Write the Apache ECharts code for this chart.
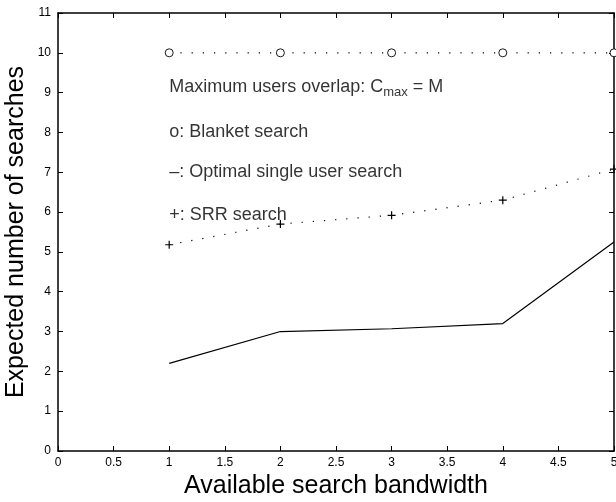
<!DOCTYPE html>
<html>
<head>
<meta charset="utf-8">
<script src="https://cdn.jsdelivr.net/npm/echarts@6/dist/echarts.min.js"></script>
<style>html,body{margin:0;padding:0;background:#fff}#c{width:616px;height:502px}</style>
</head>
<body>
<div id="c"></div>
<script>
const bandwidth = [1, 2, 3, 4, 5];
const blanket = [10, 10, 10, 10, 10];
const optimal = [2.2, 3.0, 3.07, 3.2, 5.25];
const srr = [5.18, 5.7, 5.92, 6.3, 7.08];
const annoX = [1, 1, 1, 1];
const annoY = [9.15, 8.0, 7.0, 5.92];
const annoText = ['{t|Maximum users overlap: C}{s|max}{t| = M}', '{t|o: Blanket search}', '{t|\u2013: Optimal single user search}', '{t|+: SRR search}'];
const xTitle = 'Available search bandwidth';
const yTitle = 'Expected number of searches';

const FONT = "'Liberation Sans', Arial, sans-serif";
const pairs = (xs, ys) => xs.map((x, i) => [x, ys[i]]);
const axisCommon = {
  axisLine: { show: true, onZero: false, lineStyle: { color: '#000', width: 1.5 } },
  axisTick: { show: true, inside: true, length: 5, lineStyle: { color: '#000', width: 1 } },
  splitLine: { show: false }
};
const chart = echarts.init(document.getElementById('c'), null, { renderer: 'canvas' });
chart.setOption({
  animation: false,
  backgroundColor: '#fff',
  grid: { left: 58, right: 2, top: 13, bottom: 51, containLabel: false, outerBoundsMode: 'none' },
  xAxis: [
    Object.assign({}, axisCommon, {
      type: 'value', min: 0, max: 5, interval: 0.5, position: 'bottom',
      name: xTitle, nameLocation: 'middle', nameGap: 22,
      nameTextStyle: { fontFamily: FONT, fontSize: 25, color: '#000' },
      axisLabel: { fontFamily: FONT, fontSize: 12, color: '#000', margin: 6 }
    }),
    Object.assign({}, axisCommon, {
      type: 'value', min: 0, max: 5, interval: 0.5, position: 'top',
      axisLabel: { show: false }
    })
  ],
  yAxis: [
    Object.assign({}, axisCommon, {
      type: 'value', min: 0, max: 11, interval: 1, position: 'left',
      name: yTitle, nameLocation: 'middle', nameGap: 29, nameMoveOverlap: false,
      nameTextStyle: { fontFamily: FONT, fontSize: 25, color: '#000' },
      axisLabel: { fontFamily: FONT, fontSize: 12, color: '#000', margin: 7 }
    }),
    Object.assign({}, axisCommon, {
      type: 'value', min: 0, max: 11, interval: 1, position: 'right',
      axisLabel: { show: false }
    })
  ],
  series: [
    {
      type: 'line', data: pairs(bandwidth, blanket),
      lineStyle: { color: '#000', width: 1.2, type: [1.2, 10] },
      symbol: 'circle', symbolSize: 8,
      itemStyle: { color: '#fff', borderColor: '#000', borderWidth: 0.9 }
    },
    {
      type: 'line', data: pairs(bandwidth, optimal),
      lineStyle: { color: '#000', width: 1.2 },
      showSymbol: false, symbol: 'none'
    },
    {
      type: 'line', data: pairs(bandwidth, srr),
      lineStyle: { color: '#000', width: 1.2, type: [1.2, 10] },
      symbol: 'path://M0,5L10,5M5,0L5,10', symbolSize: 8,
      itemStyle: { color: 'none', borderColor: '#000', borderWidth: 1.2 }
    },
    {
      type: 'scatter', silent: true, z: 10,
      data: annoX.map((x, i) => ({ value: [x, annoY[i]], label: { formatter: annoText[i] } })),
      symbolSize: 0,
      label: {
        show: true, position: 'right', distance: 0,
        rich: {
          t: { fontFamily: FONT, fontSize: 18, color: '#000', lineHeight: 24, verticalAlign: 'middle' },
          s: { fontFamily: FONT, fontSize: 13, color: '#000', lineHeight: 24, verticalAlign: 'bottom', padding: [10, 0, 0, 0] }
        }
      }
    }
  ]
});
</script>
</body>
</html>
